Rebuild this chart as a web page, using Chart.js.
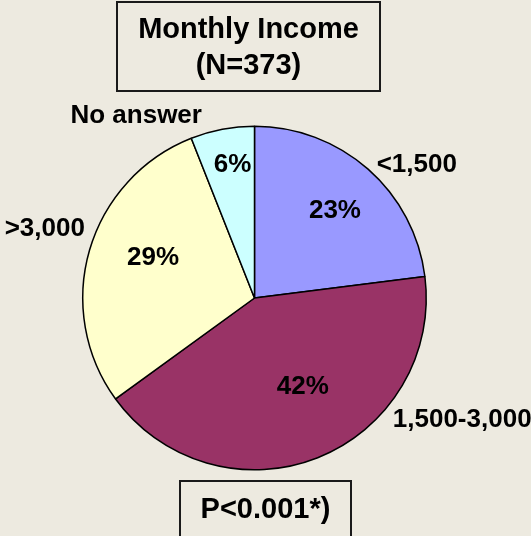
<!DOCTYPE html>
<html lang="en">
<head>
    <meta charset="UTF-8">
    <title>Monthly Income</title>
    <script src="https://cdn.jsdelivr.net/npm/chart.js"></script>
    <style>
        body {
            margin: 0;
            padding: 0;
            background: #edeae0;
            font-family: 'Liberation Sans', Arial, sans-serif;
        }

        .wrap {
            position: relative;
            width: 531px;
            height: 536px;
            overflow: hidden;
        }

        .box {
            position: absolute;
            box-sizing: border-box;
            border: 2px solid #1a1a1a;
            font-weight: bold;
            font-size: 29px;
            line-height: 36px;
            text-align: center;
            color: #000;
        }

        #title {
            left: 116px;
            top: 1px;
            width: 265px;
            height: 91px;
            padding-top: 7px;
        }

        #pval {
            left: 179px;
            top: 480px;
            width: 173px;
            height: 70px;
            padding-top: 8px;
        }
    </style>
</head>
<body>
<div class="wrap">
    <canvas id="pie" width="531" height="536"></canvas>
    <div class="box" id="title">Monthly Income<br>(N=373)</div>
    <div class="box" id="pval">P&lt;0.001*)</div>
</div>

<script>
    const categories = ['<1,500', '1,500-3,000', '>3,000', 'No answer'];
    const percents = [23, 42, 29, 6];
    const colors = ['#9999ff', '#993366', '#ffffcc', '#ccffff'];

    // where the texts sit: angle in degrees (0 = right, clockwise) and distance in radii
    const innerPos = [[-48, 0.70], [61, 0.58], [202.6, 0.64], [260.8, 0.80]];
    const outerPos = [[-39.8, 1.23], [29.9, 1.395], [198.8, 1.29], [237.3, 1.275]];

    const sliceLabels = {
        id: 'sliceLabels',
        afterDatasetsDraw(chart) {
            const ctx = chart.ctx;
            const arcs = chart.getDatasetMeta(0).data;
            ctx.save();
            ctx.fillStyle = '#000';
            ctx.font = 'bold 26px "Liberation Sans", Arial, sans-serif';
            ctx.textAlign = 'center';
            ctx.textBaseline = 'middle';
            arcs.forEach((arc, i) => {
                const p = arc.getProps(['x', 'y', 'outerRadius'], true);
                const put = (pos, txt) => {
                    const a = pos[0] * Math.PI / 180;
                    ctx.fillText(txt, p.x + Math.cos(a) * p.outerRadius * pos[1],
                        p.y + Math.sin(a) * p.outerRadius * pos[1] + 2);
                };
                put(innerPos[i], percents[i] + '%');
                put(outerPos[i], categories[i]);
            });
            ctx.restore();
        }
    };

    new Chart(document.getElementById('pie').getContext('2d'), {
        type: 'pie',
        data: {
            labels: categories,
            datasets: [{
                data: percents,
                backgroundColor: colors,
                borderColor: '#000',
                borderWidth: 1.5
            }]
        },
        options: {
            responsive: false,
            devicePixelRatio: 1,
            animation: false,
            layout: { padding: { left: 82, top: 125, right: 104, bottom: 65 } },
            plugins: {
                legend: { display: false },
                tooltip: { enabled: false }
            }
        },
        plugins: [sliceLabels]
    });
</script>
</body>
</html>
